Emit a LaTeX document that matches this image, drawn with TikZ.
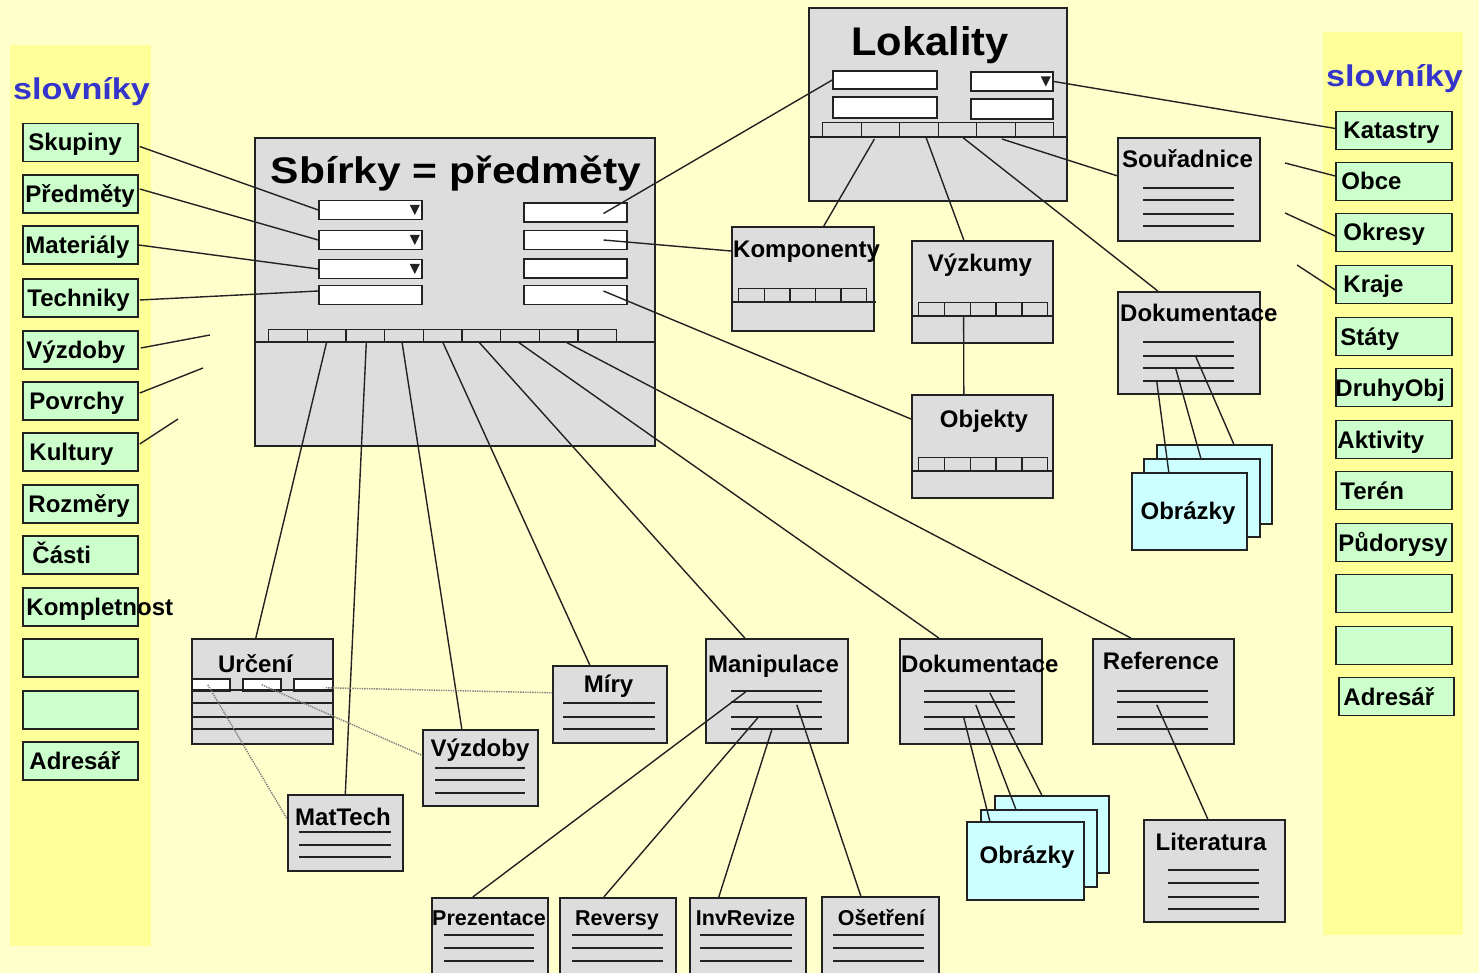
\documentclass[tikz,border=0pt]{standalone}
\usepackage{fontspec}
\setmainfont{Liberation Sans}
\usetikzlibrary{calc}

\definecolor{paper}{HTML}{FFFFCC}
\definecolor{dictbar}{HTML}{FFFF99}
\definecolor{dictfill}{HTML}{CCFFCC}
\definecolor{formgray}{HTML}{DDDDDD}
\definecolor{picfill}{HTML}{CCFFFF}
\definecolor{dictblue}{HTML}{3535CC}
\definecolor{ink}{HTML}{222222}

\tikzset{
  panel/.style={draw=ink, line width=1.6pt, fill=formgray, inner sep=0pt, anchor=north west},
  picsheet/.style={draw=ink, line width=1.5pt, fill=picfill, inner sep=0pt, anchor=north west},
  entry/.style={draw=ink, line width=1.5pt, fill=white, inner sep=0pt},
  tabcell/.style={draw=ink, line width=1.3pt, fill=formgray, inner sep=0pt, anchor=south west},
  dict/.style={draw=ink, line width=1.5pt, fill=dictfill, inner sep=0pt, minimum width=115pt, minimum height=38pt},
  dictlab/.style={anchor=west, inner sep=0pt, font=\fontsize{24}{27}\selectfont\bfseries, text height=17pt, text depth=0pt},
  lab/.style={anchor=base, inner sep=0pt, font=\fontsize{24}{28}\selectfont\bfseries},
  smalllab/.style={anchor=base, inner sep=0pt, font=\fontsize{21.5}{25}\selectfont\bfseries},
  headline/.style={anchor=base, inner sep=0pt, font=\fontsize{37}{44}\selectfont\bfseries},
  dicthead/.style={anchor=base, inner sep=0pt, text=dictblue, font=\fontsize{30}{36}\selectfont\bfseries},
  rowline/.style={draw=ink, line width=1.5pt},
  link/.style={draw=ink, line width=1.4pt},
  hint/.style={draw=gray, line width=1.4pt, densely dotted},
}

% small black drop-down arrow at the right end of an entry field
\newcommand\dropmark[1]{\fill[ink] ($(#1.east)+(-13,-5)$) -- ++(10,0) -- ++(-5,10) -- cycle;}

\begin{document}
\begin{tikzpicture}[x=1pt,y=-1pt]
\useasboundingbox (0,0) rectangle (1479,973);
\clip (0,0) rectangle (1479,973);
\fill[paper] (0,0) rectangle (1479,973);

% ---------- dictionary columns ----------
\fill[dictbar] (10,45) rectangle (151,946);
\fill[dictbar] (1323,32) rectangle (1463,935);
\node[dicthead] (slovL) at (81.5,100) {\scalebox{1.14}[1]{slovníky}};
\node[dicthead] (slovR) at (1394.5,87) {\scalebox{1.14}[1]{slovníky}};

\foreach \n/\y/\t/\o in {skupiny/142.5/Skupiny/6, predmety/194/Předměty/3,
    materialy/245/Materiály/3, techniky/298/Techniky/5, vyzdobyL/350/Výzdoby/4,
    povrchy/401/Povrchy/7, kultury/452/Kultury/7, rozmery/504/Rozměry/6,
    casti/555/Části/10, kompletnost/607/Kompletnost/4, volnyL1/658//0,
    volnyL2/710//0, adresarL/761/Adresář/7}
{
  \node[dict] (\n) at (80.5,\y) {};
  \node[dictlab] (\n T) at ($(\n.west)+(\o,0)$) {\t};
}

\foreach \n/\y/\t/\o in {katastry/130.5/Katastry/8, obce/181.5/Obce/6,
    okresy/232.5/Okresy/8, kraje/284.5/Kraje/8, staty/336.5/Státy/5,
    druhyobj/387.5/DruhyObj/0, aktivity/439.5/Aktivity/2, teren/490.5/Terén/5,
    pudorysy/542.5/Půdorysy/3, volnyR1/593.5//0, volnyR2/645.5//0}
{
  \node[dict, minimum width=116pt] (\n) at (1394,\y) {};
  \node[dictlab] (\n T) at ($(\n.west)+(\o,0)$) {\t};
}
\node[dict] (adresarR) at (1396.5,696.5) {};
\node[dictlab] (adresarRT) at ($(adresarR.west)+(5,0)$) {Adresář};

% ---------- Sbírky form ----------
\node[panel, minimum width=400pt, minimum height=308pt] (sbirky) at (254,137) {};
\draw[rowline] (254,342) -- (654,342);
\foreach \n/\y in {sf1/210, sf2/240, sf3/269, sf4/295}
  \node[entry, minimum width=103pt, minimum height=19pt] (\n) at (370.5,\y) {};
\foreach \n/\y in {sr1/212.5, sr2/240, sr3/268.5, sr4/295}
  \node[entry, minimum width=103pt, minimum height=19pt] (\n) at (575.5,\y) {};
\dropmark{sf1}\dropmark{sf2}\dropmark{sf3}
\foreach \i in {1,...,9}
  \node[tabcell, minimum width=38.67pt, minimum height=12pt] (st\i) at ({268+38.67*(\i-1)},342) {};

% ---------- Lokality form ----------
\node[panel, minimum width=258pt, minimum height=193pt] (lokality) at (808,7) {};
\draw[rowline] (808,137) -- (1066,137);
\node[entry, minimum width=104pt, minimum height=18pt] (lf1) at (885,80) {};
\node[entry, minimum width=104pt, minimum height=21pt] (lf2) at (885,107.5) {};
\node[entry, minimum width=82pt, minimum height=19pt] (lr1) at (1012,81.5) {};
\node[entry, minimum width=82pt, minimum height=20pt] (lr2) at (1012,109) {};
\dropmark{lr1}
\foreach \i in {1,...,6}
  \node[tabcell, minimum width=38.5pt, minimum height=14pt] (lt\i) at ({822+38.5*(\i-1)},137) {};

% ---------- Komponenty, Výzkumy, Objekty ----------
\node[panel, minimum width=142pt, minimum height=104pt] (komponenty) at (731,226) {};
\foreach \i in {1,...,5}
  \node[tabcell, minimum width=25.6pt, minimum height=13pt] (kt\i) at ({738+25.6*(\i-1)},302) {};
\draw[rowline] (731,302) -- (876,302);

\node[panel, minimum width=141pt, minimum height=102pt] (vyzkumy) at (911,240) {};
\foreach \i in {1,...,5}
  \node[tabcell, minimum width=25.8pt, minimum height=13pt] (vt\i) at ({918+25.8*(\i-1)},316) {};
\draw[rowline] (911,316) -- (1052,316);

\node[panel, minimum width=141pt, minimum height=103pt] (objekty) at (911,394) {};
\foreach \i in {1,...,5}
  \node[tabcell, minimum width=25.8pt, minimum height=13pt] (ot\i) at ({918+25.8*(\i-1)},471) {};
\draw[rowline] (911,471) -- (1052,471);

% ---------- Souřadnice, Dokumentace (lokality), pictures ----------
\node[panel, minimum width=142pt, minimum height=103pt] (souradnice) at (1117,137) {};
\foreach \yy in {188,200,214,226} \draw[rowline] (1143,\yy) -- (1234,\yy);

\node[panel, minimum width=142pt, minimum height=102pt] (dokR) at (1117,291) {};
\foreach \yy in {342,356,368,381} \draw[rowline] (1143,\yy) -- (1234,\yy);

\node[picsheet, minimum width=115pt, minimum height=79pt] (obrRback) at (1156,444) {};
\node[picsheet, minimum width=116pt, minimum height=78pt] (obrRmid) at (1143,458) {};
\node[picsheet, minimum width=115pt, minimum height=77pt] (obrRfront) at (1131,472) {};

% ---------- records of Sbírky ----------
\node[panel, minimum width=141pt, minimum height=105pt] (urceni) at (191,638) {};
\node[entry, anchor=north west, minimum width=38pt, minimum height=12pt] (uf1) at (191,678) {};
\node[entry, anchor=north west, minimum width=38pt, minimum height=12pt] (uf2) at (242,678) {};
\node[entry, anchor=north west, minimum width=39pt, minimum height=12pt] (uf3) at (293,678) {};
\foreach \yy in {690,703,717,729} \draw[rowline] (191,\yy) -- (332,\yy);

\node[panel, minimum width=114pt, minimum height=77pt] (miry) at (552,665) {};
\foreach \yy in {703,717,729} \draw[rowline] (563,\yy) -- (655,\yy);

\node[panel, minimum width=115pt, minimum height=76pt] (vyzdobyB) at (422,729) {};
\foreach \yy in {768,780,793} \draw[rowline] (435,\yy) -- (525,\yy);

\node[panel, minimum width=115pt, minimum height=76pt] (mattech) at (287,794) {};
\foreach \yy in {832,845,857} \draw[rowline] (299,\yy) -- (391,\yy);

\node[panel, minimum width=142pt, minimum height=104pt] (manipulace) at (705,638) {};
\foreach \yy in {691,702,717,729} \draw[rowline] (731,\yy) -- (822,\yy);

\node[panel, minimum width=142pt, minimum height=105pt] (dokB) at (899,638) {};
\foreach \yy in {691,702,717,729} \draw[rowline] (924,\yy) -- (1015,\yy);

\node[panel, minimum width=141pt, minimum height=105pt] (reference) at (1092,638) {};
\foreach \yy in {691,702,717,729} \draw[rowline] (1117,\yy) -- (1208,\yy);

\node[panel, minimum width=141pt, minimum height=102pt] (literatura) at (1143,819) {};
\foreach \yy in {870,883,897,909} \draw[rowline] (1168,\yy) -- (1259,\yy);

\node[picsheet, minimum width=114pt, minimum height=77pt] (obrBback) at (994,795) {};
\node[picsheet, minimum width=116pt, minimum height=77pt] (obrBmid) at (980,809) {};
\node[picsheet, minimum width=117pt, minimum height=78pt] (obrBfront) at (966,821) {};

\node[panel, minimum width=116pt, minimum height=100pt] (prezentace) at (431,897) {};
\foreach \yy in {935,948,961} \draw[rowline] (444,\yy) -- (534,\yy);
\node[panel, minimum width=116pt, minimum height=100pt] (reversy) at (559,897) {};
\foreach \yy in {935,948,961} \draw[rowline] (572,\yy) -- (663,\yy);
\node[panel, minimum width=116pt, minimum height=100pt] (invrevize) at (689,897) {};
\foreach \yy in {935,948,961} \draw[rowline] (700,\yy) -- (792,\yy);
\node[panel, minimum width=117pt, minimum height=100pt] (osetreni) at (821,896) {};
\foreach \yy in {935,948,961} \draw[rowline] (833,\yy) -- (924,\yy);

% ---------- connectors ----------
\coordinate (vyzdobyEnd) at (210,335);
\coordinate (povrchyEnd) at (203,368);
\coordinate (kulturyEnd) at (178,419);
\coordinate (obceEnd) at (1285,163);
\coordinate (okresyEnd) at (1285,213);
\coordinate (krajeEnd) at (1297,265);

\draw[link] ($(skupiny.east)+(1,4)$) -- (sf1.west);
\draw[link] ($(predmety.east)+(1,-5)$) -- (sf2.west);
\draw[link] (materialy.east) -- (sf3.west);
\draw[link] ($(techniky.east)+(1,2)$) -- ($(sf4.west)+(0,-4)$);
\draw[link] ($(vyzdobyL.east)+(2,-2)$) -- (vyzdobyEnd);
\draw[link] ($(povrchy.east)+(1,-8)$) -- (povrchyEnd);
\draw[link] ($(kultury.east)+(1,-8)$) -- (kulturyEnd);

\draw[link] ($(sr1.center)+(28,1)$) -- (lf1.west);
\draw[link] ($(sr2.center)+(28,0)$) -- ($(komponenty.north west)+(0,25)$);
\draw[link] ($(sr4.center)+(28,-4)$) -- ($(objekty.north west)+(0,25)$);

\draw[link] (lr1.east) -- ($(katastry.west)+(0,-2)$);
\draw[link] (obceEnd) -- ($(obce.west)+(0,-5.5)$);
\draw[link] (okresyEnd) -- ($(okresy.west)+(0,3.5)$);
\draw[link] (krajeEnd) -- ($(kraje.west)+(0,5.5)$);

\draw[link] ($(lt2.south)+(-6,2)$) -- ($(komponenty.north)+(21,0)$);
\draw[link] ($(lt3.south)+(7,0)$) -- ($(vyzkumy.north)+(-18.5,0)$);
\draw[link] ($(lt4.south)+(6,1)$) -- ($(dokR.north)+(-31,0)$);
\draw[link] ($(lt5.south)+(6,2)$) -- ($(souradnice.west)+(0,-13.5)$);
\draw[link] ($(vt2.south)+(6.3,0)$) -- ($(objekty.north)+(-18.5,0)$);

\draw[link] ($(dokR.center)+(-32,39)$) -- ($(obrRfront.north)+(-20.5,0)$);
\draw[link] ($(dokR.center)+(-13,26)$) -- ($(obrRmid.north)+(-1,0)$);
\draw[link] ($(dokR.center)+(7,14)$) -- ($(obrRback.north)+(19.5,0)$);

\draw[link] (st2.south) -- ($(urceni.north)+(-6.5,0)$);
\draw[link] ($(st3.south)+(1,0)$) -- (mattech.north);
\draw[link] ($(st4.south)+(-2,0)$) -- ($(vyzdobyB.north)+(-18.5,0)$);
\draw[link] (st5.south) -- ($(miry.north)+(-20,0)$);
\draw[link] ($(st6.south)+(-2.5,0)$) -- ($(manipulace.north)+(-32,0)$);
\draw[link] ($(st7.south)+(-2,0)$) -- ($(dokB.north)+(-32,0)$);
\draw[link] ($(st8.south)+(7,0)$) -- ($(reference.north)+(-32.5,0)$);

\draw[link] ($(manipulace.center)+(-31,1)$) -- ($(prezentace.north)+(-17,0)$);
\draw[link] ($(manipulace.center)+(-19,27)$) -- ($(reversy.north)+(-14,0)$);
\draw[link] ($(manipulace.center)+(-5,39)$) -- ($(invrevize.north)+(-29,0)$);
\draw[link] ($(manipulace.center)+(20,14)$) -- ($(osetreni.north)+(-19.5,0)$);

\draw[link] ($(dokB.center)+(-7,26.5)$) -- ($(obrBfront.north)+(-35.5,0)$);
\draw[link] ($(dokB.center)+(5,13.5)$) -- ($(obrBmid.north)+(-23,0)$);
\draw[link] ($(dokB.center)+(19,1.5)$) -- ($(obrBback.north)+(-10,0)$);

\draw[link] ($(reference.center)+(-6.5,13.5)$) -- ($(literatura.north)+(-6.5,0)$);

\draw[hint] ($(uf1.center)+(-3,0)$) -- ($(mattech.west)+(0,-14)$);
\draw[hint] (uf2.center) -- ($(vyzdobyB.west)+(0,-12.5)$);
\draw[hint] ($(uf3.center)+(12.5,3)$) -- ($(miry.west)+(0,-11.5)$);

% ---------- titles and labels ----------
\node[headline] (sbirkyT) at (456,184) {\scalebox{1.15}[1]{Sbírky = předměty}};
\node[headline, font=\fontsize{40}{46}\selectfont\bfseries] (lokalityT) at (930,56) {\scalebox{1.04}[1]{Lokality}};
\node[lab, anchor=base west] (komponentyT) at (733,258) {Komponenty};
\node[lab] (vyzkumyT) at (980,272) {Výzkumy};
\node[lab] (objektyT) at (984,427) {Objekty};
\node[lab] (souradniceT) at (1187.5,168) {Souřadnice};
\node[lab, anchor=base west] (dokRT) at (1120,322) {Dokumentace};
\node[lab] (obrRT) at (1188,519) {Obrázky};
\node[lab] (urceniT) at (255.5,672) {Určení};
\node[lab] (miryT) at (608.5,692) {Míry};
\node[lab] (vyzdobyBT) at (480,756) {Výzdoby};
\node[lab] (mattechT) at (343,825) {MatTech};
\node[lab] (manipulaceT) at (773.5,672) {Manipulace};
\node[lab, anchor=base west] (dokBT) at (901,672) {Dokumentace};
\node[lab] (referenceT) at (1161,669) {Reference};
\node[lab] (literaturaT) at (1211,850) {Literatura};
\node[lab] (obrBT) at (1027,863) {Obrázky};
\node[smalllab] (prezentaceT) at (489,925) {Prezentace};
\node[smalllab] (reversyT) at (617,925) {Reversy};
\node[smalllab] (invrevizeT) at (745.5,925) {InvRevize};
\node[smalllab] (osetreniT) at (881.5,925) {Ošetření};
\end{tikzpicture}
\end{document}
